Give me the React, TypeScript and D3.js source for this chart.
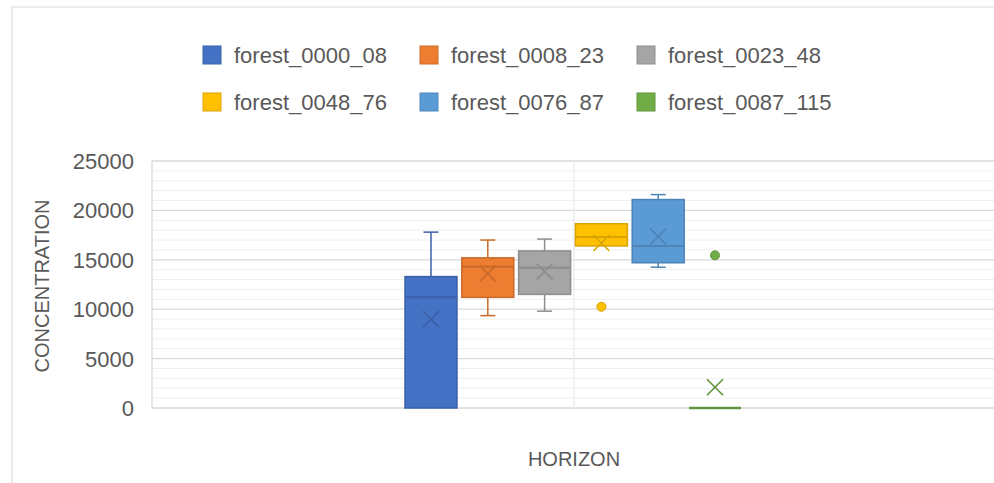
import React from "react";
import * as d3 from "d3";

const seriesNames = ["forest_0000_08", "forest_0008_23", "forest_0023_48", "forest_0048_76", "forest_0076_87", "forest_0087_115"];
const seriesColors = ["#4472C4", "#ED7D31", "#A5A5A5", "#FFC000", "#5B9BD5", "#70AD47"];
const whiskerLow = [0, 9350, 9800, 16400, 14250, 0];
const q1 = [0, 11200, 11500, 16400, 14700, 0];
const median = [11200, 14300, 14200, 17300, 16400, 0];
const q3 = [13300, 15200, 15900, 18650, 21100, 0];
const whiskerHigh = [17800, 17000, 17100, 18650, 21600, 0];
const means = [9000, 13600, 13800, 16700, 17350, 2100];
const outliers = [[], [], [], [10250], [], [15450]];
const yTicks = [0, 5000, 10000, 15000, 20000, 25000];
const category = "HORIZON";
const yTitle = "CONCENTRATION";

const W = 994, H = 483;
const plot = { left: 152, right: 996, top: 161, bottom: 408 };
const FONT = "'Liberation Sans', Arial, sans-serif";
const TXT = "#595959";

export default function App() {
  const y = d3.scaleLinear().domain([0, 25000]).range([plot.bottom, plot.top]);
  const catX = d3.scaleBand().domain([category]).range([plot.left, plot.right]);
  const center = (catX(category) as number) + catX.bandwidth() / 2;
  const groupW = 336;
  const x = d3.scaleBand().domain(seriesNames).range([center - groupW / 2 - 1, center + groupW / 2 - 1]).paddingInner(0.085);
  const bw = x.bandwidth();
  const minorTicks = d3.range(0, 25001, 1000).filter((v) => v % 5000 !== 0);

  return (
    <svg width={W} height={H} style={{ position: "absolute", left: 0, top: 0, background: "#fff" }} fontFamily={FONT}>
      <rect x={12} y={7} width={W + 10} height={H + 10} fill="#fff" stroke="#d9d9d9" strokeWidth={1} />
      {/* legend */}
      {seriesNames.map((s, i) => {
        const col = i % 3, row = Math.floor(i / 3);
        const lx = [203, 420, 637][col];
        const ly = [46, 93][row];
        return (
          <g key={s}>
            <rect x={lx} y={ly} width={18} height={18} fill={seriesColors[i]} stroke={d3.color(seriesColors[i])!.darker(0.4).toString()} strokeWidth={1} />
            <text x={lx + 31} y={ly + 17} fontSize={22} fill={TXT}>{s}</text>
          </g>
        );
      })}
      {/* minor gridlines */}
      {minorTicks.map((v) => (
        <line key={"m" + v} x1={plot.left} x2={plot.right} y1={y(v)} y2={y(v)} stroke="#efefef" strokeWidth={1} />
      ))}
      {yTicks.map((v) => (
        <line key={"g" + v} x1={plot.left} x2={plot.right} y1={y(v)} y2={y(v)} stroke="#d9d9d9" strokeWidth={1.3} />
      ))}
      <line x1={center} x2={center} y1={plot.top} y2={plot.bottom} stroke="#ececec" strokeWidth={1.5} />
      <line x1={plot.left} x2={plot.left} y1={plot.top} y2={plot.bottom} stroke="#d9d9d9" strokeWidth={1.3} />
      {/* tick labels */}
      {yTicks.map((v) => (
        <text key={"t" + v} x={134} y={y(v)} dy="0.36em" textAnchor="end" fontSize={22} fill={TXT}>{v}</text>
      ))}
      {/* boxes */}
      {seriesNames.map((s, i) => {
        const c = seriesColors[i];
        const dark = d3.color(c)!.darker(0.45).toString();
        const x0 = x(s) as number;
        const cx = x0 + bw / 2;
        const cap = 7.5;
        const mx = cx, my = y(means[i]);
        const boxH = y(q1[i]) - y(q3[i]);
        return (
          <g key={s}>
            {whiskerHigh[i] > q3[i] && (
              <g stroke={dark} strokeWidth={1.5}>
                <line x1={cx} x2={cx} y1={y(q3[i])} y2={y(whiskerHigh[i])} />
                <line x1={cx - cap} x2={cx + cap} y1={y(whiskerHigh[i])} y2={y(whiskerHigh[i])} />
              </g>
            )}
            {whiskerLow[i] < q1[i] && (
              <g stroke={dark} strokeWidth={1.5}>
                <line x1={cx} x2={cx} y1={y(q1[i])} y2={y(whiskerLow[i])} />
                <line x1={cx - cap} x2={cx + cap} y1={y(whiskerLow[i])} y2={y(whiskerLow[i])} />
              </g>
            )}
            {boxH > 0 ? (
              <rect x={x0} y={y(q3[i])} width={bw} height={boxH} fill={c} stroke={dark} strokeWidth={1.5} />
            ) : (
              <line x1={x0} x2={x0 + bw} y1={y(q1[i])} y2={y(q1[i])} stroke={dark} strokeWidth={2.5} />
            )}
            {boxH > 0 && (
              <line x1={x0} x2={x0 + bw} y1={y(median[i])} y2={y(median[i])} stroke={dark} strokeWidth={2} />
            )}
            <g stroke={dark} strokeWidth={1.6}>
              <line x1={mx - 8} x2={mx + 8} y1={my - 8} y2={my + 8} />
              <line x1={mx - 8} x2={mx + 8} y1={my + 8} y2={my - 8} />
            </g>
            {outliers[i].map((o, k) => (
              <circle key={k} cx={cx} cy={y(o)} r={4.5} fill={c} stroke={dark} strokeWidth={1} />
            ))}
          </g>
        );
      })}
      {/* axis titles */}
      <text x={center} y={466} textAnchor="middle" fontSize={20} fill={TXT}>{category}</text>
      <text transform={`translate(49,286) rotate(-90)`} textAnchor="middle" fontSize={20} fill={TXT}>{yTitle}</text>
    </svg>
  );
}
